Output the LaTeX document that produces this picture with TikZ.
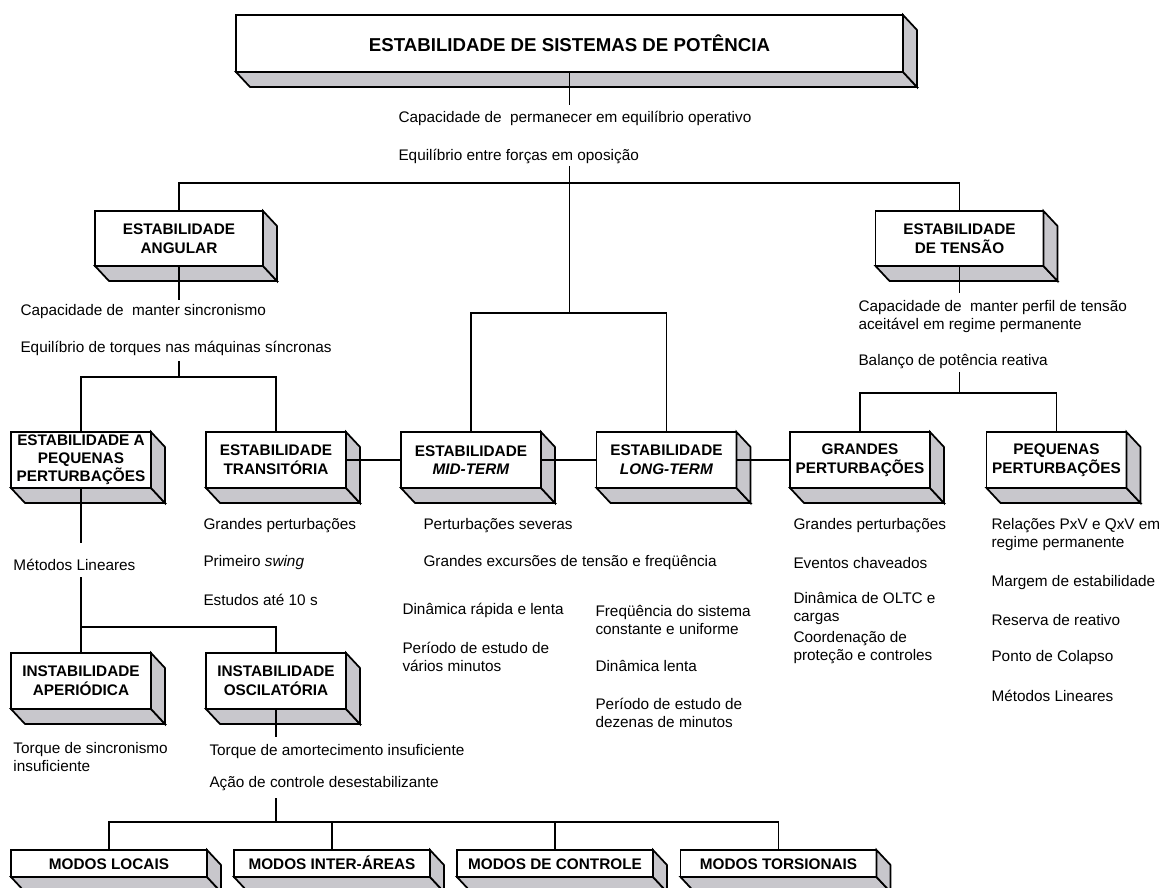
\documentclass[tikz,border=0pt]{standalone}
\usepackage{fontspec}
\setmainfont{Liberation Sans}
\usepackage{tikz}
\usetikzlibrary{calc}
\definecolor{sidegray}{RGB}{200,199,204}
\tikzset{every picture/.style={line width=0.75pt}}
\tikzset{
  blk/.style={draw, line width=1.3pt, fill=white, inner sep=0pt, outer sep=0pt,
    minimum width=105pt, minimum height=42pt, align=center,
    font=\fontsize{11.5}{14}\selectfont\bfseries},
  modo/.style={blk, minimum width=147pt, minimum height=20.25pt, text height=8.5pt, text depth=0pt},
  side/.style={draw, line width=1.3pt, fill=sidegray},
  txt/.style={anchor=west, align=left, inner sep=0pt, font=\fontsize{11.5}{13.5}\selectfont},
  lnk/.style={line width=1.1pt},
}

\begin{document}
\begin{tikzpicture}[x=0.75pt,y=0.75pt,yscale=-1,xscale=1]
	\useasboundingbox (0,0) rectangle (1165,888);

	%Shape: Boxes
	\node (top) [blk, minimum width=500.25pt, minimum height=42.75pt, font=\fontsize{14}{16}\selectfont\bfseries] at (569.5,43.5) {ESTABILIDADE DE SISTEMAS DE POTÊNCIA};
	\node (ang) [blk, minimum width=126pt, minimum height=41.25pt] at (179,238.5) {ESTABILIDADE\\ANGULAR};
	\node (ten) [blk, minimum width=126pt, minimum height=41.25pt] at (959.5,238.5) {ESTABILIDADE\\DE TENSÃO};
	\node (peq) [blk, font=\fontsize{11.5}{13.5}\selectfont\bfseries] at (81,460) {ESTABILIDADE A\\PEQUENAS\\PERTURBAÇÕES};
	\node (tra) [blk] at (276,460) {ESTABILIDADE\\TRANSITÓRIA};
	\node (mid) [blk] at (471,460) {ESTABILIDADE\\\textit{MID-TERM}};
	\node (lng) [blk] at (666.5,460) {ESTABILIDADE\\\textit{LONG-TERM}};
	\node (grd) [blk] at (860,460) {GRANDES\\PERTURBAÇÕES};
	\node (pqn) [blk] at (1056.5,460) {PEQUENAS\\PERTURBAÇÕES};
	\node (ape) [blk] at (81,681) {INSTABILIDADE\\APERIÓDICA};
	\node (osc) [blk] at (276,681) {INSTABILIDADE\\OSCILATÓRIA};
	\node (mlo) [modo] at (109,863.5) {MODOS LOCAIS};
	\node (mia) [modo] at (332,863.5) {MODOS INTER-ÁREAS};
	\node (mco) [modo] at (555,863.5) {MODOS DE CONTROLE};
	\node (mto) [modo] at (778.5,863.5) {MODOS TORSIONAIS};

	%Shape: Box sides
	\foreach \b in {top,ang,ten,peq,tra,mid,lng,grd,pqn,ape,osc,mlo,mia,mco,mto}{
		\draw[side] (\b.south west) -- ++(14,15) -- ($(\b.south east)+(14,15)$) -- (\b.south east) -- cycle;
		\draw[side] (\b.south east) -- ++(14,15) -- ($(\b.north east)+(14,15)$) -- (\b.north east) -- cycle;
	}

	% Text Node
	\node (cap0) [txt] at (398,118) {Capacidade de \ permanecer em equilíbrio operativo};
	\node (eq0) [txt] at (398,156) {Equilíbrio entre forças em oposição};
	\node (cap1) [txt] at (20,312) {Capacidade de \ manter sincronismo};
	\node (eq1) [txt] at (20,348) {Equilíbrio de torques nas máquinas síncronas};
	\node (cap2) [txt] at (858,317) {Capacidade de \ manter perfil de tensão\\aceitável em regime permanente};
	\node (bal) [txt] at (858,362) {Balanço de potência reativa};
	\node (lin0) [txt] at (13,565) {Métodos Lineares};
	\node (tr1) [txt] at (203,526) {Grandes perturbações};
	\node (tr2) [txt] at (203,563) {Primeiro \textit{swing}};
	\node (tr3) [txt] at (203,600) {Estudos até 10 s};
	\node (md1) [txt] at (423,526) {Perturbações severas};
	\node (md2) [txt] at (423,563) {Grandes excursões de tensão e freqüência};
	\node (md3) [txt] at (402,610) {Dinâmica rápida e lenta};
	\node (md4) [txt] at (402,657) {Período de estudo de\\vários minutos};
	\node (lg1) [txt] at (595,619.5) {Freqüência do sistema\\constante e uniforme};
	\node (lg2) [txt] at (595,666) {Dinâmica lenta};
	\node (lg3) [txt] at (595,712.5) {Período de estudo de\\dezenas de minutos};
	\node (gr1) [txt] at (793,526) {Grandes perturbações};
	\node (gr2) [txt] at (793,563) {Eventos chaveados};
	\node (gr3) [txt] at (793,609) {Dinâmica de OLTC e\\cargas};
	\node (gr4) [txt] at (793,647.5) {Coordenação de\\proteção e controles};
	\node (pq1) [txt] at (991,535) {Relações PxV e QxV em\\regime permanente};
	\node (pq2) [txt] at (991,583) {Margem de estabilidade};
	\node (pq3) [txt] at (991,620) {Reserva de reativo};
	\node (pq4) [txt] at (991,658) {Ponto de Colapso};
	\node (pq5) [txt] at (991,696) {Métodos Lineares};
	\node (ap1) [txt] at (13,757) {Torque de sincronismo\\insuficiente};
	\node (os1) [txt] at (209,752) {Torque de amortecimento insuficiente};
	\node (os2) [txt] at (209,784) {Ação de controle desestabilizante};

	%Straight Lines
	\coordinate (j0) at (569.5,183);
	\coordinate (j1) at (569.5,313);
	\coordinate (j2) at (179,377);
	\coordinate (j3) at (959.5,393);
	\coordinate (j4) at (81,627);
	\coordinate (j5) at (276,822);
	\coordinate (e0) at (569.5,105);
	\coordinate (e1) at (569.5,166);
	\coordinate (e2) at (179,300);
	\coordinate (e3) at (179,361);
	\coordinate (e4) at (959.5,293);
	\coordinate (e5) at (959.5,372);
	\coordinate (e6) at (81,543);
	\coordinate (e7) at (81,577);
	\coordinate (e8) at (276,737);
	\coordinate (e9) at (276,798);

	\draw[lnk] (top.south) -- (e0);
	\draw[lnk] (e1) -- (j1);
	\draw[lnk] (ang.north) |- (j0) -| (ten.north);
	\draw[lnk] (mid.north) |- (j1) -| (lng.north);
	\draw[lnk] (ang.south) -- (e2);
	\draw[lnk] (e3) -- (j2);
	\draw[lnk] (peq.north) |- (j2) -| (tra.north);
	\draw[lnk] (ten.south) -- (e4);
	\draw[lnk] (e5) -- (j3);
	\draw[lnk] (grd.north) |- (j3) -| (pqn.north);
	\draw[lnk] (tra.east) -- (mid.west);
	\draw[lnk] (mid.east) -- (lng.west);
	\draw[lnk] (lng.east) -- (grd.west);
	\draw[lnk] (peq.south) -- (e6);
	\draw[lnk] (e7) -- (j4);
	\draw[lnk] (ape.north) |- (j4) -| (osc.north);
	\draw[lnk] (osc.south) -- (e8);
	\draw[lnk] (e9) -- (j5);
	\draw[lnk] (mlo.north) |- (j5) -| (mto.north);
	\draw[lnk] (mia.north) -- (mia.north |- j5);
	\draw[lnk] (mco.north) -- (mco.north |- j5);

\end{tikzpicture}
\end{document}
